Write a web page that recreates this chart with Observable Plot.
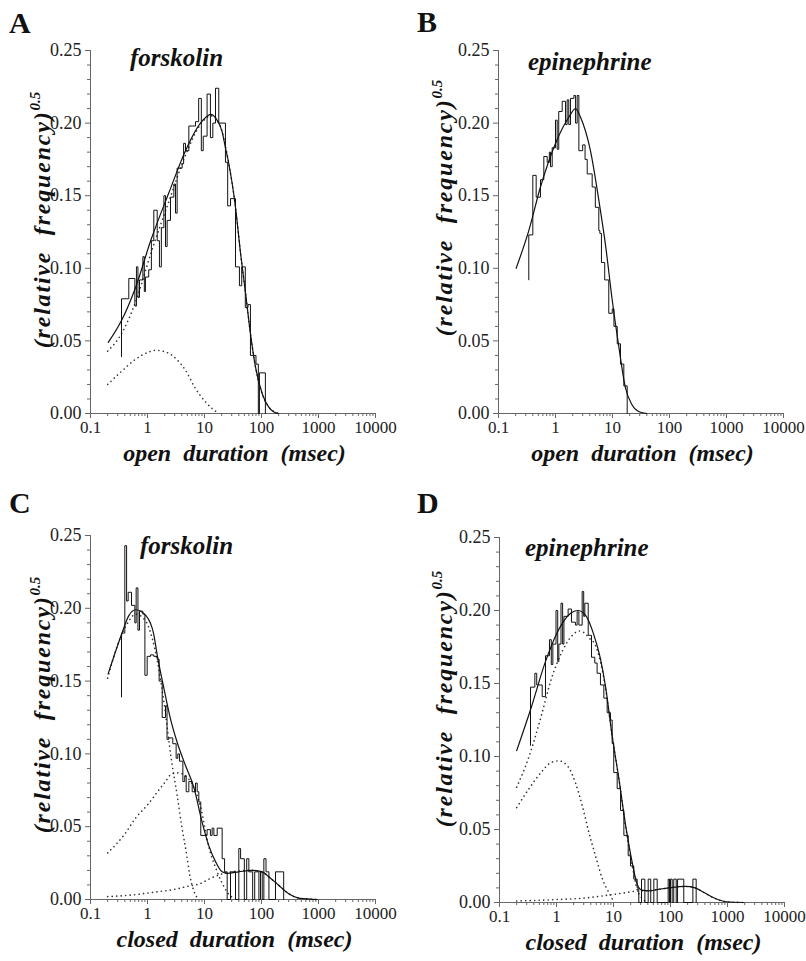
<!DOCTYPE html>
<html><head><meta charset="utf-8">
<script src="https://cdn.jsdelivr.net/npm/d3@7"></script>
<script src="https://cdn.jsdelivr.net/npm/@observablehq/plot@0.6"></script>
<style>
body{margin:0;background:#fff;}
#fig{position:relative;width:806px;height:961px;background:#fff;}
#fig svg{position:absolute;overflow:visible;}
</style></head><body><div id="fig"></div>
<script>
// ---------- axes ----------
const xMajor = [0.1, 1, 10, 100, 1000, 10000];
const xMajorLabels = ["0.1", "1", "10", "100", "1000", "10000"];
const yMajor = [0, 0.05, 0.10, 0.15, 0.20, 0.25];
const yMajorLabels = ["0.00", "0.05", "0.10", "0.15", "0.20", "0.25"];
const yMinor = [0.01,0.02,0.03,0.04,0.06,0.07,0.08,0.09,0.11,0.12,0.13,0.14,0.16,0.17,0.18,0.19,0.21,0.22,0.23,0.24];
const xMinorMultipliers = [2, 3, 4, 5, 6, 7, 8, 9];

// ---------- panel A : forskolin, open durations ----------
const histA_edge = [0.35,0.47,0.60,0.64,0.68,0.724,0.83,0.88,0.92,1.05,1.17,1.29,1.48,1.62,1.75,1.94,2.07,2.21,2.53,2.9,3.1,3.31,4.05,4.3,4.64,5.31,6.08,6.95,7.9,8.8,9.5,11.1,12.7,14.0,15.6,17.8,23.3,25.5,28.6,35,41,45,52,58,64,80,88,92];
const histA_h    = [0.079,0.093,0.074,0.101,0.080,0.092,0.108,0.084,0.094,0.099,0.119,0.140,0.119,0.101,0.128,0.150,0.115,0.133,0.149,0.158,0.138,0.169,0.172,0.186,0.181,0.198,0.198,0.201,0.217,0.181,0.191,0.220,0.190,0.200,0.224,0.200,0.173,0.143,0.148,0.101,0.088,0.101,0.073,0.075,0.040,0.034,0,0.028];
const histA_start = 0.039, histA_end = 117;
const fitA_x = [0.205,0.35,0.62,1.16,2.37,4.64,8.5,13,16,20.4,23.3,26.7,35,43,52.5,64,78.5,103,134,165,200];
const fitA_y = [0.049,0.064,0.087,0.120,0.152,0.181,0.200,0.206,0.203,0.194,0.183,0.172,0.142,0.110,0.083,0.055,0.032,0.0136,0.0044,0.001,0];
const compA1_x = [0.2,0.35,0.6,1.0,1.4,2.2,3.3,4.6,7,10.4,14,18];
const compA1_y = [0.020,0.029,0.037,0.042,0.0435,0.042,0.037,0.030,0.017,0.008,0.003,0];
const compA2_x = [0.2,0.35,0.62,1.16,2.37,4.64,8.5,13,16,20.4,26.7,35,43,52.5,64,78.5,103,134,200];
const compA2_y = [0.043,0.055,0.077,0.111,0.146,0.178,0.199,0.205,0.203,0.194,0.172,0.142,0.110,0.083,0.055,0.032,0.0136,0.0044,0];

// ---------- panel B : epinephrine, open durations ----------
const histB_edge = [0.34,0.40,0.458,0.545,0.624,0.715,0.78,0.817,0.875,1.0,1.07,1.14,1.31,1.5,1.6,1.71,1.83,2.1,2.25,2.4,2.57,3.0,3.3,3.6,4.4,5.0,5.75,6.0,6.4,7.3,8.6,9.9,10.6,11.3,12.1,13.8,15.8];
const histB_h    = [0.123,0.164,0.149,0.161,0.177,0.173,0.180,0.170,0.183,0.202,0.182,0.208,0.215,0.199,0.216,0.199,0.217,0.219,0.200,0.219,0.181,0.185,0.175,0.165,0.156,0.142,0.126,0.124,0.104,0.092,0.069,0.072,0.060,0.060,0.048,0.034,0.019];
const histB_start = 0.092, histB_end = 18.1;
const fitB_x = [0.204,0.34,0.545,1.0,1.71,2.25,2.75,4.1,5.75,7.6,9.9,12.9,16.8,22,30,40];
const fitB_y = [0.100,0.126,0.156,0.186,0.204,0.210,0.204,0.181,0.147,0.115,0.078,0.046,0.018,0.006,0.001,0];

// ---------- panel C : forskolin, closed durations ----------
const histC_edge = [0.35,0.40,0.43,0.458,0.524,0.60,0.632,0.68,0.724,0.828,0.90,0.987,1.13,1.29,1.48,1.6,1.81,2.07,2.2,2.37,2.78,3.18,3.4,3.64,4.17,4.5,4.77,5.31,6.08,6.95,7.45,7.95,8.6,11.1,12.7,13.6,14.6,16.7,20.4,22.5,25,28.6,35,40,43,50,55,60,70,76,90,96,103,110,120,135,176];
const histC_h    = [0.183,0.243,0.205,0.211,0.202,0.190,0.214,0.185,0.198,0.196,0.154,0.167,0.168,0.167,0.165,0.150,0.125,0.133,0.110,0.111,0.107,0.097,0.100,0.095,0.081,0.085,0.074,0.081,0.074,0.080,0.074,0.067,0.044,0.048,0.044,0.049,0.044,0.049,0.028,0.019,0,0.019,0,0.035,0.028,0,0.028,0.019,0,0.019,0,0.019,0,0.028,0.019,0,0.019];
const histC_start = 0.139, histC_end = 245;
const fitC_x = [0.204,0.35,0.47,0.62,0.94,1.29,1.48,1.94,2.53,3.31,4.64,6.5,9.1,11.9,15.6,20.4,25,40,67,103,134,200,300,450,700,950];
const fitC_y = [0.155,0.182,0.195,0.199,0.195,0.182,0.168,0.145,0.124,0.108,0.092,0.077,0.053,0.037,0.026,0.019,0.018,0.019,0.020,0.019,0.0156,0.0098,0.004,0.001,0.0003,0];
const compC1_x = [0.2,0.3,0.45,0.62,0.9,1.2,1.5,2.0,2.6,3.3,4.0,4.9,5.5,6.5,7.5];
const compC1_y = [0.152,0.175,0.190,0.196,0.192,0.180,0.163,0.132,0.097,0.072,0.050,0.030,0.017,0.006,0.001];
const compC2_x = [0.2,0.4,0.62,1.0,1.5,2.07,2.6,3.5,4.6,6.5,8.5,11.9,15.6,20,25,32];
const compC2_y = [0.032,0.045,0.056,0.065,0.074,0.081,0.086,0.087,0.085,0.077,0.064,0.036,0.022,0.012,0.005,0.001];
const compC3_x = [0.2,0.5,1.3,3,5,8.5,12,20,30,67,103,134,200,300,450,700,950];
const compC3_y = [0.002,0.003,0.005,0.007,0.009,0.011,0.014,0.0175,0.019,0.020,0.019,0.0156,0.0098,0.004,0.001,0.0003,0];

// ---------- panel D : epinephrine, closed durations ----------
const histD_edge = [0.35,0.417,0.45,0.561,0.641,0.753,0.81,0.863,0.98,1.05,1.1,1.2,1.28,1.35,1.6,1.83,2.15,2.3,2.47,2.82,3.0,3.14,3.6,4.11,4.7,5.16,5.9,6.77,7.74,8.85,9.48,10.1,11.6,13.3,15.2,18.1,19.9,22.7,26,27.8,31,35.5,40.6,45,51,58.4,91,96,100,107,114,126,133,171,247];
const histD_h    = [0.1475,0.157,0.149,0.141,0.169,0.180,0.163,0.177,0.200,0.165,0.177,0.205,0.177,0.196,0.201,0.192,0.190,0.199,0.190,0.213,0.196,0.205,0.183,0.168,0.164,0.157,0.149,0.140,0.130,0.125,0.109,0.089,0.078,0.063,0.046,0.032,0.025,0.016,0.010,0,0.016,0,0.016,0,0.016,0,0.016,0,0.016,0,0.016,0,0.016,0,0.016];
const histD_start = 0.1075, histD_end = 282;
const fitD_x = [0.2,0.35,0.64,1.03,1.75,2.35,3.2,4.55,5.9,7.24,9.48,12.4,16.3,21.4,26,31.5,41,61,93,180,270,380,560,950,1900];
const fitD_y = [0.104,0.132,0.165,0.185,0.198,0.200,0.197,0.183,0.167,0.148,0.114,0.085,0.053,0.027,0.0126,0.0085,0.008,0.009,0.010,0.011,0.010,0.007,0.0034,0.0005,0];
const compD1_x = [0.2,0.33,0.56,0.81,1.1,1.6,2.15,2.8,3.7,5,6.4,8.5,10];
const compD1_y = [0.065,0.078,0.090,0.096,0.097,0.093,0.082,0.067,0.048,0.030,0.016,0.006,0.001];
const compD2_x = [0.2,0.33,0.56,0.81,1.26,1.9,2.47,3.0,4.0,4.55,5.9,7.24,9.48,12.4,16.3,21.4,26,31.5,40];
const compD2_y = [0.079,0.100,0.130,0.153,0.172,0.183,0.186,0.185,0.180,0.178,0.165,0.147,0.114,0.085,0.052,0.025,0.009,0.003,0];
const compD3_x = [0.2,1,3,8,15,25,35,41,61,93,180,270,380,560,950,1900];
const compD3_y = [0.001,0.002,0.003,0.005,0.0065,0.0078,0.008,0.008,0.009,0.010,0.011,0.010,0.007,0.0034,0.0005,0];

// ---------- helpers ----------
const xMinor = [];
for (const dec of [0.1, 1, 10, 100, 1000]) for (const m of xMinorMultipliers) xMinor.push(+(dec * m).toPrecision(3));
const pts = (xs, ys) => xs.map((x, i) => ({x, y: ys[i]}));
function histPts(edges, hs, start, end) {
  const p = [{x: edges[0], y: start}];
  edges.forEach((e, i) => p.push({x: e, y: hs[i]}));
  p.push({x: end, y: hs[hs.length - 1]});
  p.push({x: end, y: 0});
  return p;
}
const SERIF = "'Liberation Serif', 'Times New Roman', serif";
const AXIS = "#666";

function panel(cfg) {
  const W = 403;
  const marks = [
    Plot.ruleX([0.1], {stroke: AXIS}),
    Plot.ruleY([0], {stroke: AXIS}),
    Plot.axisY({ticks: yMajor, tickFormat: d => yMajorLabels[yMajor.indexOf(d)], tickSize: 5, tickPadding: 4, label: null, stroke: AXIS, fill: "#222", fontSize: 18}),
    Plot.axisY({ticks: yMinor, tickSize: 3, text: null, label: null, stroke: AXIS}),
    Plot.axisX({ticks: xMajor, tickFormat: d => xMajorLabels[xMajor.indexOf(d)], tickSize: 5, tickPadding: 2, label: null, stroke: AXIS, fill: "#222", fontSize: 17}),
    Plot.axisX({ticks: xMinor, tickSize: 3, text: null, label: null, stroke: AXIS})
  ];
  for (const c of cfg.comps) {
    marks.push(Plot.line(pts(c[0], c[1]), {x: "x", y: "y", curve: "monotone-x", stroke: "#333", strokeWidth: 1.6, strokeDasharray: "0.1,4.4", strokeLinecap: "round"}));
  }
  marks.push(Plot.line(pts(cfg.fitX, cfg.fitY), {x: "x", y: "y", curve: "monotone-x", stroke: "#111", strokeWidth: 1.2}));
  marks.push(Plot.line(histPts(cfg.edges, cfg.hs, cfg.start, cfg.end), {x: "x", y: "y", curve: "step-after", stroke: "#111", strokeWidth: 1}));
  const svg = Plot.plot({
    width: W, height: cfg.height,
    marginLeft: cfg.mL, marginRight: cfg.mR, marginTop: cfg.mT, marginBottom: cfg.mB,
    style: {fontFamily: SERIF, fontSize: "18px", color: "#222", background: "transparent"},
    x: {type: "log", domain: [0.1, 10000]},
    y: {domain: [0, 0.25]},
    marks
  });
  svg.style.left = cfg.left + "px";
  svg.style.top = cfg.top + "px";
  const s = d3.select(svg);
  s.append("text").attr("x", cfg.letterX).attr("y", cfg.letterY).attr("text-anchor", "start")
    .attr("font-family", SERIF).attr("font-weight", "bold").attr("font-size", 30).attr("fill", "#111").text(cfg.letter);
  s.append("text").attr("x", cfg.agentX).attr("y", cfg.agentY).attr("text-anchor", "start")
    .attr("font-family", SERIF).attr("font-weight", "bold").attr("font-style", "italic").attr("font-size", 25).attr("fill", "#111").text(cfg.agent);
  s.append("text").attr("x", cfg.mL + (W - cfg.mL - cfg.mR) / 2 + 2).attr("y", cfg.xTitleY)
    .attr("text-anchor", "middle").attr("xml:space", "preserve").style("white-space", "pre")
    .attr("font-family", SERIF).attr("font-weight", "bold").attr("font-style", "italic").attr("font-size", 24).attr("fill", "#111").text(cfg.xTitle);
  const yt = s.append("text").attr("transform", `translate(${cfg.yTitleX},${cfg.yTitleY}) rotate(-90)`)
    .attr("text-anchor", "middle").attr("xml:space", "preserve").style("white-space", "pre").style("letter-spacing", "1.8px")
    .attr("font-family", SERIF).attr("font-weight", "bold").attr("font-style", "italic").attr("font-size", 24).attr("fill", "#111");
  yt.append("tspan").text("(relative  frequency)");
  yt.append("tspan").attr("dy", -10).attr("font-size", 15).style("letter-spacing", "0px").text("0.5");
  document.getElementById("fig").appendChild(svg);
}

panel({left: 0, top: 0, height: 480, mL: 90, mR: 28, mT: 50, mB: 67,
  letter: "A", letterX: 9, letterY: 33, agent: "forskolin", agentX: 130, agentY: 66,
  xTitle: "open  duration  (msec)", xTitleY: 461, yTitleX: 50, yTitleY: 220,
  edges: histA_edge, hs: histA_h, start: histA_start, end: histA_end,
  fitX: fitA_x, fitY: fitA_y, comps: [[compA1_x, compA1_y], [compA2_x, compA2_y]]});
panel({left: 403, top: 0, height: 480, mL: 95, mR: 23, mT: 50, mB: 67,
  letter: "B", letterX: 14, letterY: 32, agent: "epinephrine", agentX: 125, agentY: 70,
  xTitle: "open  duration  (msec)", xTitleY: 461, yTitleX: 49, yTitleY: 208,
  edges: histB_edge, hs: histB_h, start: histB_start, end: histB_end,
  fitX: fitB_x, fitY: fitB_y, comps: []});
panel({left: 0, top: 480, height: 481, mL: 90, mR: 28, mT: 55, mB: 62,
  letter: "C", letterX: 9, letterY: 33, agent: "forskolin", agentX: 140, agentY: 74,
  xTitle: "closed  duration  (msec)", xTitleY: 467, yTitleX: 50, yTitleY: 225,
  edges: histC_edge, hs: histC_h, start: histC_start, end: histC_end,
  fitX: fitC_x, fitY: fitC_y, comps: [[compC1_x, compC1_y], [compC2_x, compC2_y], [compC3_x, compC3_y]]});
panel({left: 403, top: 480, height: 481, mL: 96, mR: 22, mT: 57, mB: 59,
  letter: "D", letterX: 14, letterY: 33, agent: "epinephrine", agentX: 122, agentY: 76,
  xTitle: "closed  duration  (msec)", xTitleY: 470, yTitleX: 49, yTitleY: 219,
  edges: histD_edge, hs: histD_h, start: histD_start, end: histD_end,
  fitX: fitD_x, fitY: fitD_y, comps: [[compD1_x, compD1_y], [compD2_x, compD2_y], [compD3_x, compD3_y]]});
</script></body></html>
